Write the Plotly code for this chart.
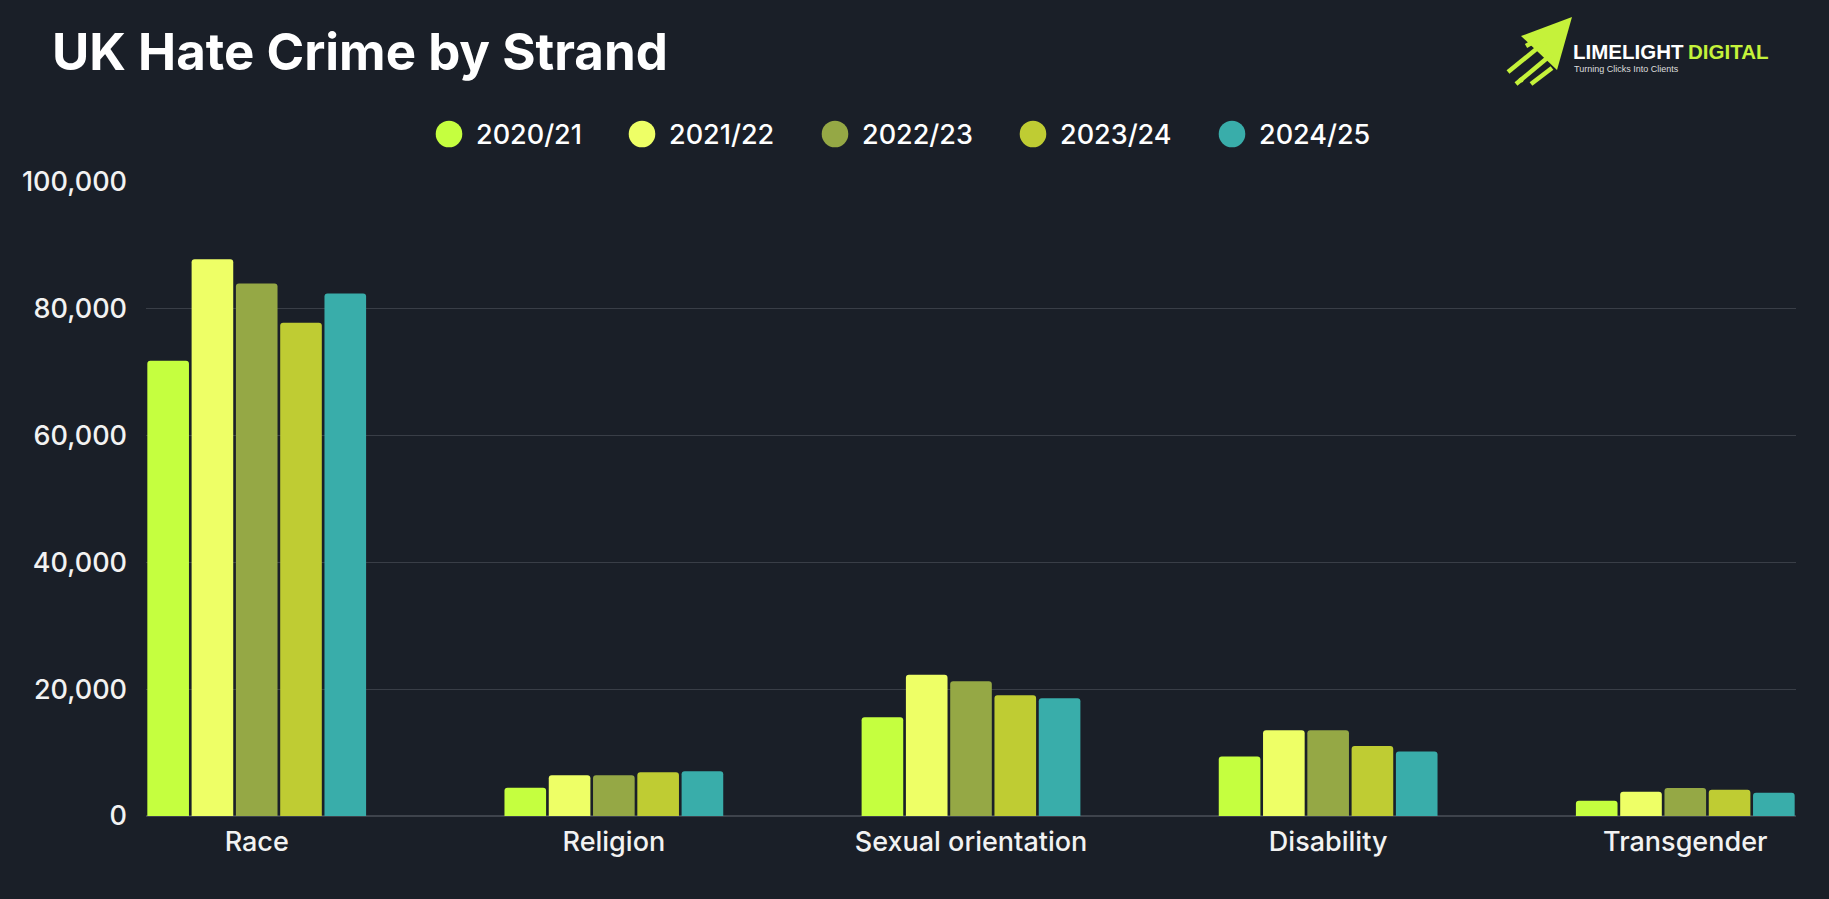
import plotly.graph_objects as go

categories = ["Race", "Religion", "Sexual orientation", "Disability", "Transgender"]
years = ["2020/21", "2021/22", "2022/23", "2023/24", "2024/25"]
values_2020_21 = [71800, 4470, 15580, 9370, 2420]
values_2021_22 = [87800, 6420, 22260, 13530, 3840]
values_2022_23 = [84000, 6420, 21260, 13530, 4420]
values_2023_24 = [77800, 6890, 19050, 11050, 4160]
values_2024_25 = [82400, 7050, 18580, 10160, 3680]
series = [values_2020_21, values_2021_22, values_2022_23, values_2023_24, values_2024_25]
colors = ["#C5FF3F", "#EEFF66", "#95A845", "#BFCC33", "#39ADAA"]
y_ticks = [0, 20000, 40000, 60000, 80000, 100000]

BG = "#1A1F28"
W, H = 1829, 899
ML, MR, MT, MB = 146, 33, 182, 83
PW, PH = W - ML - MR, H - MT - MB


def px(x):
    return (x - ML) / PW


def py(y):
    return (H - MB - y) / PH


fig = go.Figure()
for name, vals, col in zip(years, series, colors):
    fig.add_trace(go.Bar(
        x=categories, y=vals, name=name,
        marker=dict(color=col, cornerradius=3, line=dict(width=0)),
        showlegend=False,
        hovertemplate="%{x}<br>" + name + ": %{y:,}<extra></extra>",
    ))

shapes = []
annotations = []

# custom legend with circles
legend_cx = [449, 642, 835, 1033, 1232]
for cx, name, col in zip(legend_cx, years, colors):
    shapes.append(dict(type="circle", xref="paper", yref="paper",
                       xsizemode="pixel", ysizemode="pixel",
                       xanchor=px(cx), yanchor=py(134),
                       x0=-13.3, x1=13.3, y0=-13.3, y1=13.3,
                       fillcolor=col, line=dict(width=0)))
    annotations.append(dict(text=name, xref="paper", yref="paper",
                            x=px(cx + 25), y=py(134), xanchor="left", yanchor="middle",
                            showarrow=False,
                            font=dict(family="Inter", size=27, weight=500, color="#FFFFFF")))

# logo
LIME = "#C5F23A"
tri = "M {} {} L {} {} L {} {} Z".format(px(1572), py(17), px(1521), py(36), px(1557), py(70))
shapes.append(dict(type="path", path=tri, xref="paper", yref="paper",
                   fillcolor=LIME, line=dict(width=0)))
for (x0, y0, x1, y1) in [(1508, 72, 1545, 42), (1516, 84, 1552, 54), (1531, 84, 1552, 68), (1526, 46, 1540, 38)]:
    shapes.append(dict(type="line", xref="paper", yref="paper",
                       x0=px(x0), y0=py(y0), x1=px(x1), y1=py(y1),
                       line=dict(color=LIME, width=4.5)))
shapes.append(dict(type="circle", xref="paper", yref="paper",
                   xsizemode="pixel", ysizemode="pixel",
                   xanchor=px(1521), yanchor=py(80), x0=-2.5, x1=2.5, y0=-2.5, y1=2.5,
                   fillcolor=LIME, line=dict(width=0)))
annotations.append(dict(text="<b>LIMELIGHT</b>", xref="paper", yref="paper",
                        x=px(1571), y=py(52), xanchor="left", yanchor="middle", showarrow=False,
                        font=dict(family="Liberation Sans, Arial", size=20.5, color="#FFFFFF")))
annotations.append(dict(text="<b>DIGITAL</b>", xref="paper", yref="paper",
                        x=px(1686), y=py(52), xanchor="left", yanchor="middle", showarrow=False,
                        font=dict(family="Liberation Sans, Arial", size=20.5, color=LIME)))
annotations.append(dict(text="Turning Clicks Into Clients", xref="paper", yref="paper",
                        x=px(1572), y=py(68.5), xanchor="left", yanchor="middle", showarrow=False,
                        font=dict(family="Liberation Sans, Arial", size=9, color="#DDDDDD")))

fig.update_layout(
    width=W, height=H, autosize=False,
    paper_bgcolor=BG, plot_bgcolor=BG,
    margin=dict(l=ML, r=MR, t=MT, b=MB),
    barmode="group", bargap=0.38, bargroupgap=0.06,
    title=dict(text="UK Hate Crime by Strand", xref="container", yref="container",
               x=52 / W, xanchor="left", y=1 - 52 / H, yanchor="middle",
               font=dict(family="Inter", size=51, weight=700, color="#FFFFFF")),
    shapes=shapes, annotations=annotations,
    xaxis=dict(range=[-0.31, 4.31], showgrid=False, showline=False, zeroline=False,
               ticks="", tickfont=dict(family="Inter", size=27, weight=500, color="#F2F2F2"),
               ticklabelstandoff=7, fixedrange=True),
    yaxis=dict(range=[0, 100000], tickvals=y_ticks, tickformat=",d",
               showgrid=True, gridcolor="#393E47", gridwidth=1,
               zeroline=True, zerolinecolor="#3E434C", zerolinewidth=2,
               showline=False, ticks="",
               tickfont=dict(family="Inter", size=27, weight=500, color="#F2F2F2"),
               ticklabelstandoff=18, fixedrange=True),
    font=dict(family="Inter", color="#FFFFFF"),
)

fig.write_html("out.html")
